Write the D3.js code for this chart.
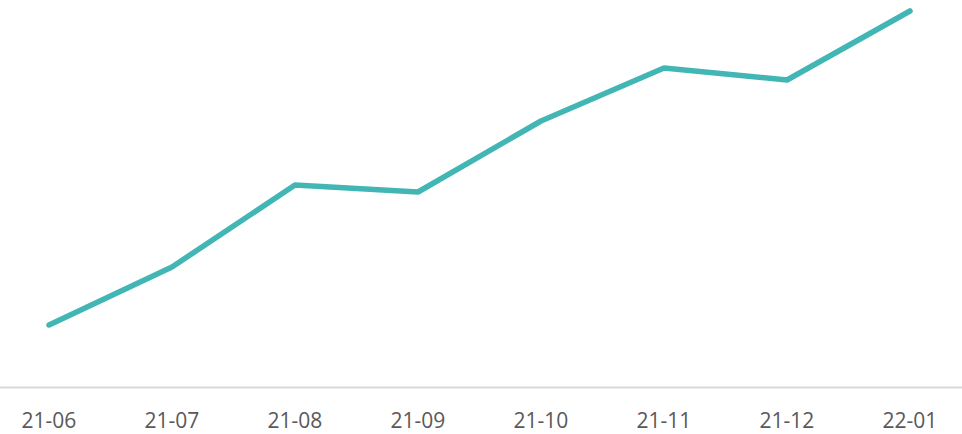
<!DOCTYPE html>
<html>
<head>
<meta charset="utf-8">
<script src="https://cdn.jsdelivr.net/npm/d3@7"></script>
<style>
body{margin:0;background:#fff;}
</style>
</head>
<body>
<div id="chart"></div>
<script>
var months=["21-06","21-07","21-08","21-09","21-10","21-11","21-12","22-01"];
var values=[62,120,202,195,266,319,307,376];

var ww=962,hh=434,base=387;
var x=d3.scalePoint().domain(months).range([49,910]);
var y=d3.scaleLinear().domain([0,376]).range([base,11]);

var svg=d3.select("#chart").append("svg")
    .attr("width",ww)
    .attr("height",hh);

// baseline
svg.append("line")
   .attr("x1",0).attr("x2",ww)
   .attr("y1",base+0.5).attr("y2",base+0.5)
   .attr("stroke","#d9d9d9")
   .attr("stroke-width",2);

var line=d3.line()
    .x(function(d,i){return x(months[i]);})
    .y(function(d){return y(d);});

svg.append("path")
   .datum(values)
   .attr("d",line)
   .attr("fill","none")
   .attr("stroke","#41b6b4")
   .attr("stroke-width",5.5)
   .attr("stroke-linecap","round")
   .attr("stroke-linejoin","round");

svg.selectAll("text.lbl")
   .data(months).enter()
   .append("text")
   .attr("class","lbl")
   .attr("x",function(d){return x(d);})
   .attr("y",428)
   .attr("text-anchor","middle")
   .attr("font-family","'Open Sans', sans-serif")
   .attr("font-size","21px")
   .attr("fill","#595959")
   .text(function(d){return d;});
</script>
</body>
</html>
